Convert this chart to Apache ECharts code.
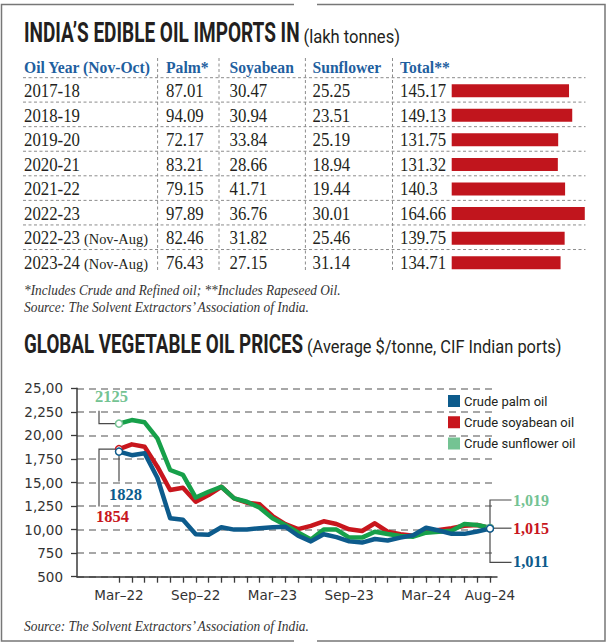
<!DOCTYPE html>
<html><head><meta charset="utf-8">
<script src="https://cdn.jsdelivr.net/npm/echarts@6/dist/echarts.min.js"></script>
<style>html,body{margin:0;padding:0;background:#fff}#c{width:609px;height:643px}</style>
</head><body><div id="c"></div>
<script>
// ---------- DATA ----------
const yearLabels = ["2017-18","2018-19","2019-20","2020-21","2021-22","2022-23","2022-23 (Nov-Aug)","2023-24 (Nov-Aug)"];
const palmImports = [87.01,94.09,72.17,83.21,79.15,97.89,82.46,76.43];
const soyImports = [30.47,30.94,33.84,28.66,41.71,36.76,31.82,27.15];
const sunImports = [25.25,23.51,25.19,18.94,19.44,30.01,25.46,31.14];
const totalImports = [145.17,149.13,131.75,131.32,140.3,164.66,139.75,134.71];
const tableHeaders = ["Oil Year (Nov-Oct)","Palm*","Soyabean","Sunflower","Total**"];

const months = ["Mar–22","Apr–22","May–22","Jun–22","Jul–22","Aug–22","Sep–22","Oct–22","Nov–22","Dec–22",
  "Jan–23","Feb–23","Mar–23","Apr–23","May–23","Jun–23","Jul–23","Aug–23","Sep–23","Oct–23","Nov–23","Dec–23",
  "Jan–24","Feb–24","Mar–24","Apr–24","May–24","Jun–24","Jul–24","Aug–24"];
const xTickLabels = ["Mar–22","Sep–22","Mar–23","Sep–23","Mar–24","Aug–24"];
const yTickLabels = ["500","750","10,00","1,250","15,00","1,750","20,00","2,250","25,00"];
const seriesNames = ["Crude palm oil","Crude soyabean oil","Crude sunflower oil"];
const palmPrice = [1828,1790,1810,1550,1120,1105,950,945,1025,1000,1000,1015,1025,1030,935,875,950,920,875,862,900,885,915,940,1020,990,955,955,980,1011];
const soyPrice  = [1854,1905,1880,1668,1420,1445,1296,1367,1455,1332,1286,1268,1144,1059,1005,1040,1088,1059,1003,985,1067,978,950,935,978,996,1014,1041,1049,1015];
const sunPrice  = [2125,2163,2139,1969,1633,1580,1340,1402,1455,1332,1296,1233,1120,1049,970,895,1000,1000,915,915,978,953,932,925,967,978,988,1059,1049,1019];
const footnote = "*Includes Crude and Refined oil; **Includes Rapeseed Oil.";
const sourceText = "Source: The Solvent Extractors’ Association of India.";

// ---------- STYLE ----------
const C_PALM = '#0d5b8c', C_SOY = '#c8161d', C_SUN = '#17a04a', C_SUN_LIGHT = '#74c393';
const C_HEAD = '#1f5f9f', C_TEXT = '#231f20', C_BAR = '#c1151d';

const chart = echarts.init(document.getElementById('c'), null, {renderer: 'svg'});
const mctx = document.createElement('canvas').getContext('2d');
function measure(text, font) { mctx.font = font; return mctx.measureText(text).width; }
function txt(text, x, y, font, color, targetW, align, sxOverride) {
  let sx = 1;
  if (sxOverride) sx = sxOverride;
  else if (targetW) sx = targetW / measure(text, font);
  const a = align || 'left';
  return {type: 'text', x: x, y: y, scaleX: sx, z: 10, silent: true,
    style: {text: text, font: font, fill: color, textAlign: a, textVerticalAlign: 'middle', align: a, verticalAlign: 'middle'}};
}
function line(points, color, w, dash) {
  return {type: 'polyline', z: 1, silent: true, shape: {points: points},
    style: {stroke: color, lineWidth: w, fill: null, lineDash: dash || null}};
}

const nM = months.length;
const endSym = (v, p) => (p.dataIndex === 0 || p.dataIndex === nM - 1) ? 'circle' : 'none';
function lineSeries(name, data, color, symColor) {
  return {name: name, type: 'line', xAxisIndex: 1, yAxisIndex: 1, data: data, smooth: false,
    showSymbol: true, showAllSymbol: true, symbol: endSym, symbolSize: 7,
    lineStyle: {color: color, width: 4.5, join: 'round'},
    itemStyle: {color: '#fff', borderColor: symColor, borderWidth: 1.5},
    emphasis: {disabled: true}, silent: true};
}

const option = {
  animation: false,
  grid: [
    {left: 77, right: 112, top: 388.3, bottom: 66.3},
    {left: 119, right: 119, top: 388.3, bottom: 66.3},
    {left: 451.7, width: 137.4, top: 78.4, height: 196.6}
  ],
  xAxis: [
    {gridIndex: 0, type: 'value', min: 0, max: 1, axisLine: {show: true, onZero: false, lineStyle: {color: '#3a3a3a', width: 1.5}},
      axisTick: {show: false}, axisLabel: {show: false}, splitLine: {show: false}},
    {gridIndex: 1, type: 'category', data: months, boundaryGap: false, axisLine: {show: false},
      axisTick: {show: true, interval: 0, length: 6, lineStyle: {color: '#3a3a3a', width: 1.3}},
      axisLabel: {interval: 0, margin: 11, fontFamily: 'DejaVu Sans', fontSize: 13.5, color: '#333',
        formatter: v => xTickLabels.includes(v) ? v : ''}},
    {gridIndex: 2, type: 'value', min: 0, max: 170, show: false}
  ],
  yAxis: [
    {gridIndex: 0, type: 'value', min: 500, max: 2500, interval: 250,
      axisLine: {show: true, lineStyle: {color: '#3a3a3a', width: 1.5}},
      axisTick: {show: true, length: 6, lineStyle: {color: '#3a3a3a', width: 1.3}},
      axisLabel: {margin: 14, fontFamily: 'DejaVu Sans', fontSize: 13.5, color: '#333',
        formatter: v => yTickLabels[Math.round((v - 500) / 250)]},
      splitLine: {show: true, lineStyle: {type: [7, 5], color: '#8a8a8a', width: 1.5}}},
    {gridIndex: 1, type: 'value', min: 500, max: 2500, show: false},
    {gridIndex: 2, type: 'category', data: yearLabels, inverse: true, show: false}
  ],
  legend: {
    data: [
      {name: seriesNames[0], itemStyle: {color: C_PALM}},
      {name: seriesNames[1], itemStyle: {color: C_SOY}},
      {name: seriesNames[2], itemStyle: {color: C_SUN_LIGHT}}
    ],
    orient: 'vertical', left: 448, top: 394, padding: 0, itemWidth: 10, itemHeight: 10, itemGap: 7.2, icon: 'rect',
    selectedMode: false,
    textStyle: {fontFamily: "Roboto", fontSize: 13, lineHeight: 14, color: C_TEXT}
  },
  series: [
    {type: 'bar', xAxisIndex: 2, yAxisIndex: 2, data: totalImports, barWidth: 13, itemStyle: {color: C_BAR}, silent: true},
    lineSeries(seriesNames[1], soyPrice, C_SOY, C_SOY),
    lineSeries(seriesNames[2], sunPrice, C_SUN, C_SUN_LIGHT),
    lineSeries(seriesNames[0], palmPrice, C_PALM, C_PALM)
  ]
};
chart.setOption(option);

// ---------- GRAPHICS (titles, table, annotations, frame) ----------
const g = [];
// frame
g.push({type: 'rect', z: 0, silent: true, shape: {x: 1.5, y: 4.5, width: 603.5, height: 636.5}, style: {stroke: '#777', lineWidth: 1.5, fill: null}});
g.push({type: 'rect', z: 1, silent: true, shape: {x: 294, y: 2, width: 23, height: 5}, style: {fill: '#fff'}});
g.push({type: 'rect', z: 1, silent: true, shape: {x: 294, y: 638, width: 23, height: 6}, style: {fill: '#fff'}});

// titles
g.push(txt("INDIA’S EDIBLE OIL IMPORTS IN", 24, 33, "bold 27px Roboto", C_TEXT, 276));
g.push(txt("(lakh tonnes)", 303.5, 36.5, "18px Roboto", C_TEXT, 96.5));
g.push(txt("GLOBAL VEGETABLE OIL PRICES", 24, 344.5, "bold 26px Roboto", C_TEXT, 279.5));
g.push(txt("(Average $/tonne, CIF Indian ports)", 307, 347, "18px Roboto", C_TEXT, 254.5));

// table header
const colX = [24, 166, 229.5, 312.5, 400];
const headFont = "bold 17px 'Liberation Serif'";
const headScale = 127 / measure(tableHeaders[0], headFont);
tableHeaders.forEach((h, i) => g.push(txt(h, colX[i], 67, headFont, C_HEAD, null, 'left', headScale)));

// table body
const bodyFont = "18px 'Liberation Serif'";
const bodyScale = 56 / measure("2017-18", bodyFont);
const noteFont = "15px 'Liberation Serif'";
const rowY = i => 90.8 + 24.57 * i;
yearLabels.forEach((lab, i) => {
  const parts = lab.split(' ');
  g.push(txt(parts[0], colX[0], rowY(i), bodyFont, C_TEXT, null, 'left', bodyScale));
  if (parts[1]) g.push(txt(parts[1], 84, rowY(i) + 1, noteFont, C_TEXT, 64));
  [palmImports, soyImports, sunImports, totalImports].forEach((arr, j) => {
    g.push(txt(String(arr[i]), colX[j + 1], rowY(i), bodyFont, C_TEXT, null, 'left', bodyScale));
  });
});
// table rules
const DASH = [3, 2.5], RULE = '#8c8c8c';
g.push(line([[23, 77.7], [585.5, 77.7]], RULE, 1, DASH));
for (let i = 0; i < yearLabels.length - 1; i++) {
  const y = rowY(i) + 11.3;
  g.push(line([[23, y], [585.5, y]], RULE, 1, DASH));
}
[157.6, 219, 305.4, 392.5].forEach(x => g.push(line([[x, 58], [x, 272]], RULE, 1, DASH)));

// footnotes
const footFont = "italic 15px 'Liberation Serif'";
g.push(txt(footnote, 24, 290, footFont, '#333', 317));
g.push(txt(sourceText, 24, 307, footFont, '#333', 287));
g.push(txt(sourceText, 24, 625.5, footFont, '#333', 287));

// annotations
const px = (i, v) => chart.convertToPixel({xAxisIndex: 1, yAxisIndex: 1}, [i, v]);
const annFont = "bold 16px 'Liberation Serif'";
const AC = '#4a4a4a';
const gS = px(0, sunPrice[0]), rS = px(0, soyPrice[0]), bS = px(0, palmPrice[0]);
g.push(line([[gS[0] - 4, gS[1]], [99, gS[1]], [99, gS[1] - 13]], AC, 1.2));
g.push(txt(String(sunPrice[0]), 95, 397.5, annFont, C_SUN_LIGHT, 33));
g.push(line([[rS[0] - 4, rS[1]], [99, rS[1]], [99, 506.5]], AC, 1.2));
g.push(txt(String(soyPrice[0]), 96, 517, annFont, C_SOY, 33));
g.push(line([[bS[0], bS[1] + 4], [bS[0], 481.5]], AC, 1.2));
g.push(txt(String(palmPrice[0]), 109, 495, annFont, C_PALM, 33));

const last = nM - 1;
const rE = px(last, soyPrice[last]);
const ex = rE[0];
g.push(line([[ex + 21.5, 500], [ex, 500], [ex, 562.3], [ex + 21.5, 562.3]], AC, 1.2));
g.push(line([[ex + 4, rE[1]], [ex + 21.5, rE[1]]], AC, 1.2));
const fmt = v => v.toLocaleString('en-US');
g.push(txt(fmt(sunPrice[last]), ex + 23, 500, annFont, C_SUN_LIGHT, 36));
g.push(txt(fmt(soyPrice[last]), ex + 23, rE[1], annFont, C_SOY, 36));
g.push(txt(fmt(palmPrice[last]), ex + 23, 562.5, annFont, C_PALM, 36));

chart.setOption({graphic: g});
</script>
</body></html>
